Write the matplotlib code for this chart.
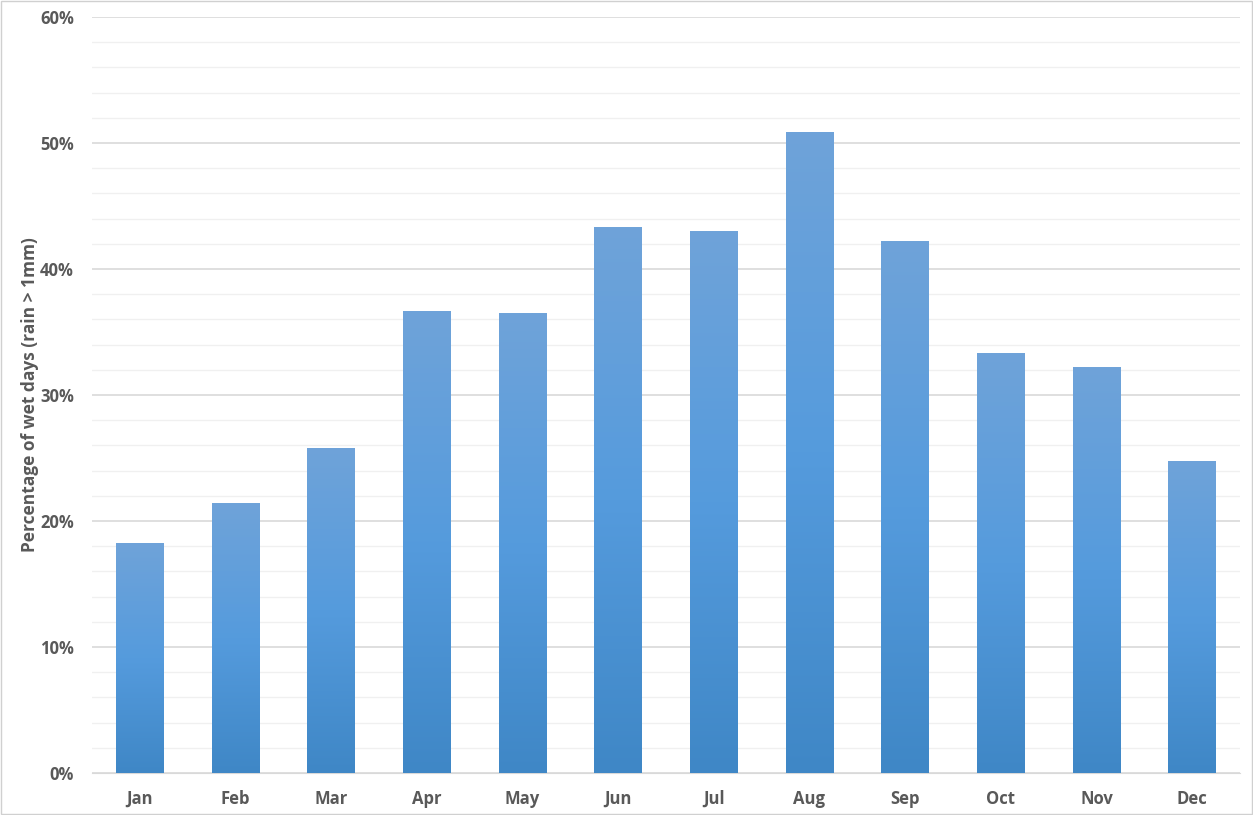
import matplotlib.pyplot as plt
import numpy as np
from matplotlib.colors import LinearSegmentedColormap
from matplotlib.ticker import MultipleLocator, PercentFormatter

months = ["Jan", "Feb", "Mar", "Apr", "May", "Jun", "Jul", "Aug", "Sep", "Oct", "Nov", "Dec"]
wet_pct = [18.25, 21.4, 25.8, 36.7, 36.5, 43.3, 43.0, 50.9, 42.2, 33.3, 32.2, 24.8]

plt.rcParams['font.family'] = ['Open Sans', 'DejaVu Sans']
text_col = '#595959'

fig = plt.figure(figsize=(12.53, 8.15), dpi=100)
ax = fig.add_axes([0.0734, 0.0515, 0.9162, 0.9276])

x = np.arange(len(months))
bars = ax.bar(x, wet_pct, 0.5, color='none', edgecolor='none', zorder=3)

# vertical gradient inside each bar
grad_cmap = LinearSegmentedColormap.from_list('g', ['#3f87c6', '#559bdd', '#6fa3d9'])
grad = np.linspace(0, 1, 256).reshape(-1, 1)
for b in bars:
    x0, y0 = b.get_x(), b.get_y()
    w, h = b.get_width(), b.get_height()
    im = ax.imshow(grad, cmap=grad_cmap, origin='lower', aspect='auto',
                   extent=[x0, x0 + w, y0, y0 + h], zorder=3)
    im.set_clip_path(b)

ax.set_xlim(-0.5, 11.5)
ax.set_ylim(0, 60)
ax.yaxis.set_major_locator(MultipleLocator(10))
ax.yaxis.set_minor_locator(MultipleLocator(2))
ax.yaxis.set_major_formatter(PercentFormatter(decimals=0))
ax.grid(axis='y', which='major', color='#d9d9d9', lw=1.2, zorder=0)
ax.grid(axis='y', which='minor', color='#f0f0f0', lw=1.0, zorder=0)
ax.set_axisbelow(True)

ax.set_xticks(x)
ax.set_xticklabels(months)
for s in ['top', 'right', 'left']:
    ax.spines[s].set_visible(False)
ax.spines['bottom'].set_color('#d9d9d9')
ax.tick_params(axis='both', which='both', length=0, colors=text_col, labelsize=12)
ax.tick_params(axis='y', pad=13)
ax.tick_params(axis='x', pad=12)
for lab in ax.get_xticklabels() + ax.get_yticklabels():
    lab.set_fontweight('bold')

ax.set_ylabel('Percentage of wet days (rain > 1mm)', fontsize=12.5, fontweight='bold',
              color=text_col, labelpad=1)

fig.patches.append(plt.Rectangle((0.001, 0.001), 0.998, 0.998, transform=fig.transFigure,
                                 fill=False, edgecolor='#d0d0d0', lw=1))

fig.savefig('out.png', dpi=100)
